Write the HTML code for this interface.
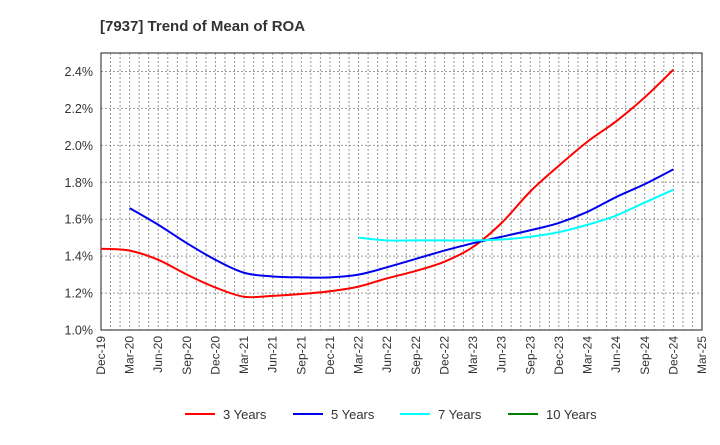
<!DOCTYPE html>
<html><head><meta charset="utf-8"><style>
body{margin:0;background:#fff;font-family:"Liberation Sans",Arial,sans-serif}
</style></head><body>
<svg width="720" height="440" xmlns="http://www.w3.org/2000/svg" font-family="Liberation Sans, Arial, sans-serif">
<text x="100" y="31" font-size="15" font-weight="bold" fill="#333">[7937]  Trend of Mean of ROA</text>
<g id="grid"></g><g id="axes"></g><g id="series"></g><g id="legend"></g>
</svg>
<script>
const xLabels=["Dec-19","Mar-20","Jun-20","Sep-20","Dec-20","Mar-21","Jun-21","Sep-21","Dec-21","Mar-22","Jun-22","Sep-22","Dec-22","Mar-23","Jun-23","Sep-23","Dec-23","Mar-24","Jun-24","Sep-24","Dec-24","Mar-25"];
const yTicks=[1.0,1.2,1.4,1.6,1.8,2.0,2.2,2.4];
const y3=[1.44,1.43,1.38,1.30,1.23,1.18,1.185,1.195,1.21,1.235,1.28,1.32,1.37,1.45,1.58,1.75,1.89,2.02,2.13,2.26,2.41];
const y5=[null,1.66,1.57,1.47,1.38,1.31,1.29,1.285,1.285,1.30,1.34,1.385,1.43,1.47,1.505,1.54,1.58,1.64,1.72,1.79,1.87];
const y7=[null,null,null,null,null,null,null,null,null,1.50,1.485,1.485,1.485,1.485,1.49,1.505,1.53,1.57,1.62,1.69,1.76];
const y10=[];
const L=101,R=702,T=53,B=330,yMin=1.0,yMax=2.5;
const xs=i=>L+(R-L)*i/(xLabels.length-1);
const ys=v=>B-(B-T)*(v-yMin)/(yMax-yMin);
const NS="http://www.w3.org/2000/svg";
function mk(t,a,p){const e=document.createElementNS(NS,t);for(const k in a)e.setAttribute(k,a[k]);p.appendChild(e);return e;}
const grid=document.getElementById('grid'),axes=document.getElementById('axes'),ser=document.getElementById('series'),leg=document.getElementById('legend');
const nM=(xLabels.length-1)*3;
for(let m=1;m<nM;m++){const x=L+(R-L)*m/nM;const g=mk('line',{x1:x,x2:x,y1:T,y2:B,stroke:'#999','stroke-dasharray':'2,2','stroke-width':1},grid);

}
yTicks.slice(1).forEach(v=>{const y=ys(v);const g=mk('line',{x1:L,x2:R,y1:y,y2:y,stroke:'#999','stroke-dasharray':'2,2','stroke-width':1},grid);

});
const fr=mk('rect',{x:L,y:T,width:R-L,height:B-T,fill:'none',stroke:'#444','stroke-width':1.2},axes);


yTicks.forEach(v=>{const t=mk('text',{x:L-8,y:ys(v)+4.5,'text-anchor':'end','font-size':12.5,fill:'#333'},axes);t.textContent=v.toFixed(1)+'%';

});
xLabels.forEach((s,i)=>{const x=xs(i)+4;const t=mk('text',{x:0,y:0,transform:`translate(${x},${B+6}) rotate(-90)`,'text-anchor':'end','font-size':12,fill:'#333'},axes);t.textContent=s;

});
function path(arr){const p=[];arr.forEach((v,i)=>{if(v!=null)p.push([xs(i),ys(v)]);});if(p.length<2)return'';
let d=`M${p[0][0]},${p[0][1]}`;for(let i=0;i<p.length-1;i++){const p0=p[i-1]||p[i],p1=p[i],p2=p[i+1],p3=p[i+2]||p2;
const c1=[p1[0]+(p2[0]-p0[0])/6,p1[1]+(p2[1]-p0[1])/6],c2=[p2[0]-(p3[0]-p1[0])/6,p2[1]-(p3[1]-p1[1])/6];
d+=`C${c1[0]},${c1[1]} ${c2[0]},${c2[1]} ${p2[0]},${p2[1]}`;}return d;}
const series=[[y3,'#ff0000','3 Years','line-3-years'],[y5,'#0000ee','5 Years','line-5-years'],[y7,'#00ffff','7 Years','line-7-years'],[y10,'#008000','10 Years','line-10-years']];
series.forEach(s=>{const d=path(s[0]);if(d){const e=mk('path',{d:d,fill:'none',stroke:s[1],'stroke-width':2},ser);

}});
const lx=[185,293,400,508];
series.forEach((s,i)=>{const g=mk('g',{},leg);


mk('line',{x1:lx[i],x2:lx[i]+30,y1:414,y2:414,stroke:s[1],'stroke-width':2},g);
const t=mk('text',{x:lx[i]+38,y:419,'font-size':13,fill:'#333'},g);t.textContent=s[2];});
</script>
</body></html>
